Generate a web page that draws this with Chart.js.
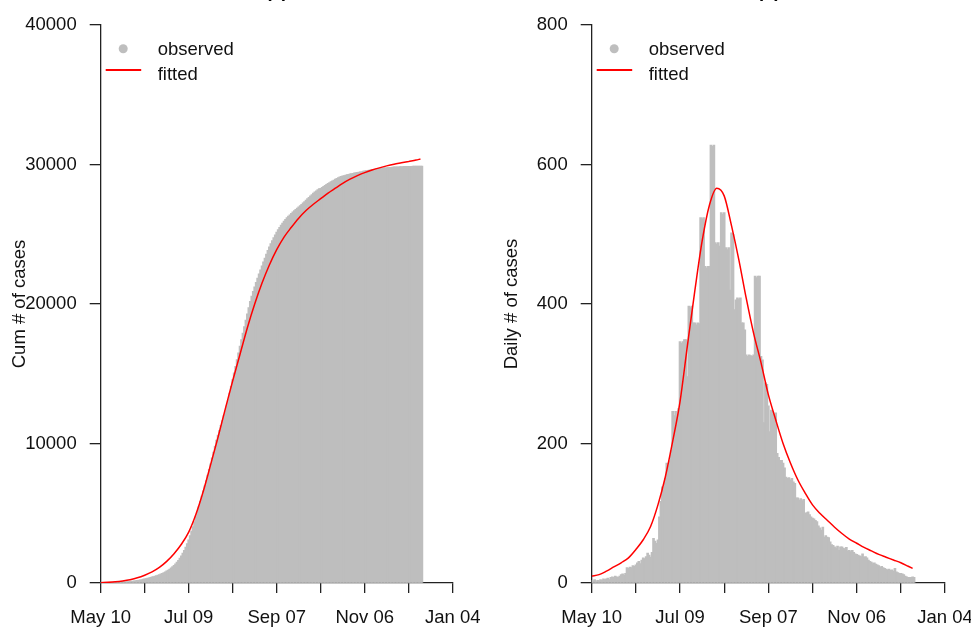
<!DOCTYPE html>
<html><head><meta charset="utf-8">
<script src="https://cdn.jsdelivr.net/npm/chart.js@4"></script>
<style>
html,body{margin:0;padding:0;background:#fff;overflow:hidden;width:971px;height:628px}
#wrap{position:relative;width:971px;height:628px;overflow:hidden;background:#fff}
canvas{position:absolute;top:0}
#c1{left:0}
#c2{left:492px}
.ttl{position:absolute;font:bold 18.5px "Liberation Sans",Arial,sans-serif;line-height:20px;top:-19px;transform:translateX(-50%);color:#000;white-space:nowrap}
</style></head>
<body>
<div id="wrap">
<canvas id="c1" width="503" height="628"></canvas>
<canvas id="c2" width="500" height="628"></canvas>
<div class="ttl" style="left:276.7px">(a)</div>
<div class="ttl" style="left:768.7px">(b)</div>
</div>
<script>
// ---- data (days since May 10) ----
const xTickDays = [0, 30, 60, 90, 120, 150, 180, 210, 240];
const xLabelDays = [0, 60, 120, 180, 240];
const xTickLabels = ['May 10', 'Jul 09', 'Sep 07', 'Nov 06', 'Jan 04'];
const legendLabels = ['observed', 'fitted'];
const cumTitle = 'Cum # of cases';
const dailyTitle = 'Daily # of cases';

const cumObserved = [
10,12,15,18,21,24,28,32,36,40,
45,50,56,62,68,75,82,90,99,108,
118,130,143,157,172,188,205,225,250,275,
300,325,350,378,406,436,466,500,535,572,
612,655,700,750,805,865,930,1000,1080,1170,
1270,1380,1500,1630,1780,1950,2140,2350,2580,2830,
3100,3400,3720,4050,4400,4760,5120,5480,5850,6230,
6600,6970,7350,7740,8140,8550,8970,9390,9810,10250,
10600,10950,11300,11650,12000,12350,12700,13150,13620,14100,
14580,15060,15540,16020,16500,16980,17450,17920,18390,18850,
19300,19750,20200,20560,20900,21230,21550,21860,22160,22450,
22740,23020,23300,23570,23840,24100,24330,24550,24760,24960,
25150,25330,25500,25650,25800,25940,26070,26190,26300,26400,
26500,26600,26690,26780,26870,26960,27050,27150,27250,27350,
27450,27550,27650,27750,27850,27950,28040,28120,28200,28270,
28300,28370,28440,28510,28580,28650,28710,28770,28830,28890,
28950,29010,29070,29120,29150,29180,29210,29240,29270,29300,
29325,29350,29375,29400,29420,29440,29460,29480,29500,29520,
29540,29560,29580,29600,29620,29640,29660,29680,29700,29715,
29725,29735,29745,29755,29765,29775,29785,29795,29805,29815,
29825,29830,29835,29840,29845,29850,29855,29860,29865,29870,
29872,29874,29876,29878,29880,29882,29884,29886,29888,29890
];

const fitDays = [0,5,10,15,20,25,30,35,40,45,50,55,60,65,70,75,80,85,90,95,100,105,110,115,120,125,130,135,140,145,150,155,160,165,170,175,180,185,190,195,200,205,210,215,218];
const cumFitted = [20,45,85,150,240,370,560,800,1120,1550,2100,2780,3650,4950,6600,8500,10450,12500,14500,16400,18300,20000,21500,22800,23900,24800,25500,26150,26700,27150,27550,27950,28300,28650,28950,29200,29420,29600,29760,29900,30020,30120,30220,30320,30390];

const dailyObserved = [
4,3,5,2,4,3,5,4,6,5,
6,7,5,8,9,8,10,9,8,10,
12,13,11,14,22,21,23,22,25,24,
26,29,31,28,33,36,35,38,43,40,
37,44,64,60,57,62,95,117,138,135,
150,172,168,175,190,246,240,246,238,250,
346,344,346,349,349,296,397,395,397,373,
373,370,373,372,524,522,524,454,452,454,
454,628,626,628,488,486,488,483,531,529,
531,481,478,481,420,502,500,392,406,409,
407,409,373,373,363,327,325,327,326,325,
327,440,438,440,440,325,320,230,287,285,
254,217,248,246,240,244,186,180,176,176,
172,165,152,150,151,148,150,145,143,122,
122,119,121,118,120,100,101,102,98,95,
93,92,90,88,82,79,76,80,66,68,
66,65,59,55,54,52,50,53,47,52,
52,50,49,51,46,47,45,47,44,42,
41,40,39,38,42,37,38,36,33,31,
30,28,29,27,26,25,23,24,22,21,
20,19,20,18,19,17,21,16,15,14,
14,13,12,10,9,8,8,8,9,8
];
const dailyFitted = [10,12,17,23,29,36,48,62,81,112,152,203,260,340,418,490,542,566,555,512,463,408,358,316,270,234,200,172,148,129,112,100,90,80,71,63,57,51,46,41,37,33,29,24,21];

// ---- styling ----
const FONT = '"Liberation Sans", Arial, sans-serif';
const GREY = '#BEBEBE', RED = '#FF0000', INK = '#111111', AX = '#222222';

const rLegend = {
  id: 'rlegend',
  afterDatasetsDraw(chart) {
    const {ctx, chartArea} = chart;
    const L = chartArea.left, T = chartArea.top;
    ctx.save();
    ctx.fillStyle = GREY;
    ctx.beginPath(); ctx.arc(L + 22.5, T + 23.7, 4.5, 0, Math.PI * 2); ctx.fill();
    ctx.strokeStyle = RED; ctx.lineWidth = 2;
    ctx.beginPath(); ctx.moveTo(L + 5, T + 45); ctx.lineTo(L + 40.5, T + 45); ctx.stroke();
    ctx.fillStyle = INK; ctx.font = '18.5px ' + FONT; ctx.textBaseline = 'alphabetic'; ctx.textAlign = 'left';
    ctx.fillText(legendLabels[0], L + 57, T + 30);
    ctx.fillText(legendLabels[1], L + 57, T + 54.5);
    ctx.restore();
  }
};

function pts(xs, ys) { return ys.map((y, i) => ({x: xs[i], y})); }
const obsDays = cumObserved.map((_, i) => i);

function makeChart(id, cfg) {
  return new Chart(document.getElementById(id), {
    data: {
      datasets: [
        {type: 'line', order: 0, data: pts(fitDays, cfg.fit), borderColor: RED, borderWidth: 1.5,
         pointRadius: 0, cubicInterpolationMode: 'monotone', fill: false},
        {type: 'bar', order: 1, data: pts(obsDays, cfg.obs), backgroundColor: GREY, borderWidth: 0,
         barThickness: 2, grouped: false}
      ]
    },
    options: {
      responsive: false, animation: false, events: [],
      layout: {autoPadding: false, padding: {left: 0, top: cfg.padTop, right: cfg.padRight, bottom: 0}},
      plugins: {legend: {display: false}, tooltip: {enabled: false}},
      scales: {
        x: {
          type: 'linear', min: 0, max: 240, offset: false,
          afterFit: s => { s.height = 45; },
          afterBuildTicks: s => { s.ticks = xTickDays.map(v => ({value: v})); },
          ticks: {autoSkip: false, maxRotation: 0, minRotation: 0, padding: 14, color: INK,
                  font: {family: FONT, size: 18.5},
                  callback: v => { const k = xLabelDays.indexOf(v); return k >= 0 ? xTickLabels[k] : ''; }},
          grid: {offset: false, drawOnChartArea: false, drawTicks: true, tickLength: 10, color: AX, lineWidth: 1.3},
          border: {display: true, color: AX, width: 1.3}
        },
        y: {
          type: 'linear', min: 0, max: cfg.yMax,
          afterFit: s => { s.width = cfg.axisW; },
          ticks: {stepSize: cfg.yStep, padding: 13, color: INK, font: {family: FONT, size: 18.5},
                  callback: v => String(v)},
          grid: {drawOnChartArea: false, drawTicks: true, tickLength: 11, color: AX, lineWidth: 1.3},
          border: {display: true, color: AX, width: 1.3},
          title: {display: true, text: cfg.title, color: INK, font: {family: FONT, size: 18.5},
                  padding: {top: 9, bottom: 0}}
        }
      }
    },
    plugins: [rLegend]
  });
}

makeChart('c1', {obs: cumObserved, fit: cumFitted, yMax: 40000, yStep: 10000,
  title: cumTitle, axisW: 100.7, padTop: 25, padRight: 50.3});
makeChart('c2', {obs: dailyObserved, fit: dailyFitted, yMax: 800, yStep: 200,
  title: dailyTitle, axisW: 99.7, padTop: 25, padRight: 47});
</script>
</body></html>
